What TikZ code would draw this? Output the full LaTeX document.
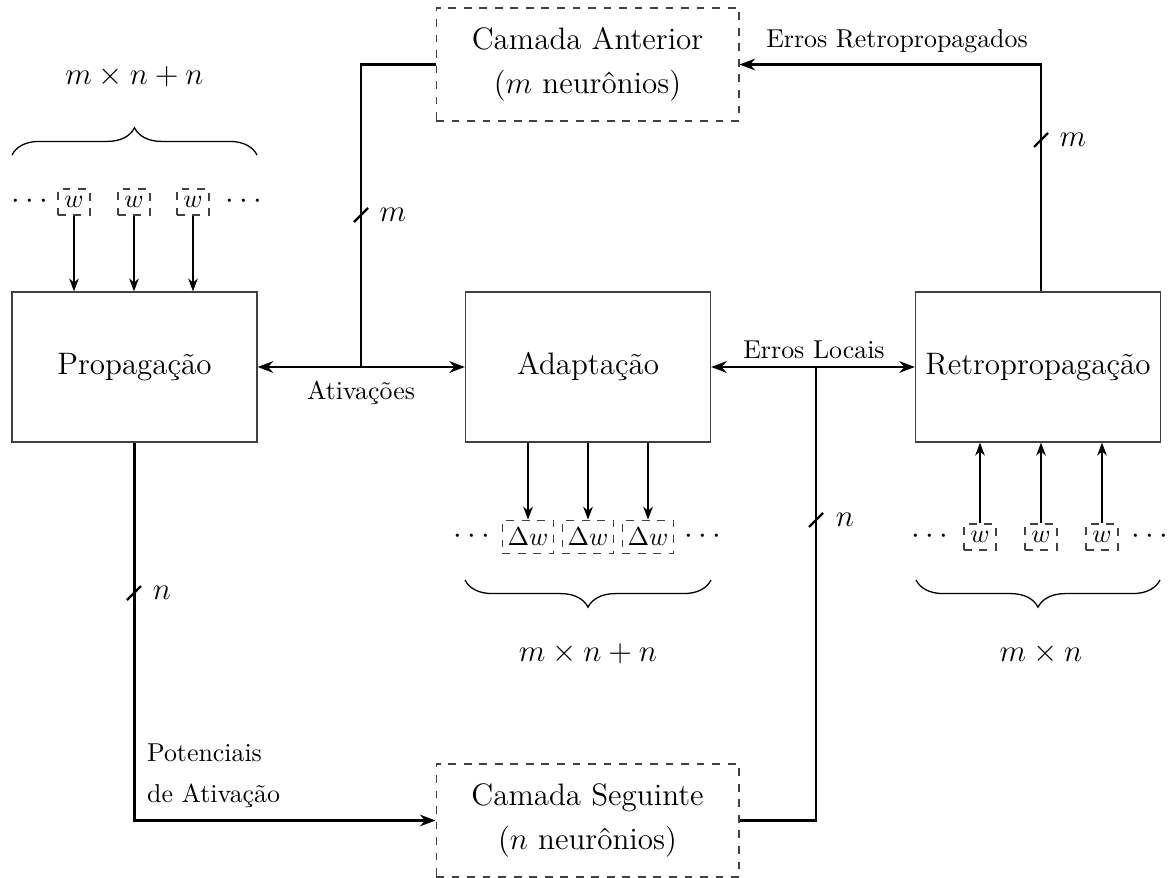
\documentclass[tikz,border=0pt]{standalone}
\usetikzlibrary{arrows.meta,decorations.pathreplacing,calc}
\begin{document}
\begin{tikzpicture}[x=0.3865pt,y=-0.3865pt,
  blk/.style={draw=black!75,line width=0.5pt,minimum width=94.7pt,minimum height=58pt,font=\large},
  layer/.style={draw=black!75,dashed,line width=0.5pt,minimum width=117pt,minimum height=43.7pt,font=\large,align=center},
  wbox/.style={draw=black!75,dashed,line width=0.5pt,inner ysep=2.5pt,inner xsep=2.5pt,minimum height=10pt},
  conn/.style={line width=0.9pt},
  dbl/.style={line width=0.9pt,{Stealth[length=6pt]}-{Stealth[length=6pt]}},
  sarr/.style={line width=0.5pt,-{Stealth[length=5pt]}},
  cut/.style={line width=0.9pt},
  brc/.style={decorate,decoration={brace,amplitude=10.5pt,aspect=0.5},line width=0.5pt},
  lbl/.style={font=\normalsize}]
\useasboundingbox (0,0) rectangle (1172,877);
% main blocks
\node[blk] (prop) at (134.5,367) {Propaga\c{c}\~ao};
\node[blk] (adap) at (588,367) {Adapta\c{c}\~ao};
\node[blk] (retro) at (1038,367) {Retropropaga\c{c}\~ao};
\node[layer] (ant) at (587.5,64.5) {Camada Anterior\\[3pt]($m$ neur\^onios)};
\node[layer] (seg) at (587.5,820.5) {Camada Seguinte\\[3pt]($n$ neur\^onios)};
% Ativacoes
\draw[dbl] (prop.east) -- (adap.west);
\coordinate (j1) at (361,367);
\node[lbl,below] (ativ) at (361,372) {Ativa\c{c}\~oes};
\coordinate (c1) at (361,64.5);
\draw[conn] (j1) -- (c1) -- (ant.west);
\draw[cut] (354,222) -- (368,208);
\node[lbl] (lm1) at (393,215) {\large$m$};
% Erros Locais
\draw[dbl] (adap.east) -- (retro.west);
\node[lbl] (el) at (814,350) {Erros Locais};
\coordinate (j2) at (816,367);
\coordinate (c2) at (816,820.5);
\draw[conn] (j2) -- (c2) -- (seg.east);
\draw[cut] (809,527) -- (823,513);
\node[lbl] (ln2) at (845,520) {\large$n$};
% Erros retropropagados
\coordinate (c3) at (1041,64.5);
\draw[conn,-{Stealth[length=6pt]}] (retro.north -| c3) -- (c3) -- (ant.east);
\node[lbl] (er) at (897,41) {Erros Retropropagados};
\draw[cut] (1034,147) -- (1048,133);
\node[lbl] (lm3) at (1073,140) {\large$m$};
% Potenciais
\coordinate (c4) at (134.5,820.5);
\draw[conn,-{Stealth[length=6pt]}] (prop.south) -- (c4) -- (seg.west);
\node[lbl,align=left,anchor=west] (pot) at (138,776) {Potenciais\\[4pt]de Ativa\c{c}\~ao};
\draw[cut] (127,600) -- (141,586);
\node[lbl] (ln4) at (162,593) {\large$n$};
% weights above Propagacao
\node (d1) at (30,202) {\large$\cdots$};
\node[wbox] (w1) at (74,202) {$w$};
\node[wbox] (w2) at (134,202) {$w$};
\node[wbox] (w3) at (193,202) {$w$};
\node (d2) at (244,202) {\large$\cdots$};
\foreach \w in {w1,w2,w3} \draw[sarr] (\w.south) -- (\w.south |- prop.north);
\draw[brc] (12,155) -- (257,155);
\node (b1) at (134.5,77) {\large$m\times n+n$};
% delta w below Adaptacao
\node (d3) at (472,537) {\large$\cdots$};
\node[wbox,minimum height=13pt,inner xsep=2pt] (dw1) at (528,537) {$\Delta w$};
\node[wbox,minimum height=13pt,inner xsep=2pt] (dw2) at (588,537) {$\Delta w$};
\node[wbox,minimum height=13pt,inner xsep=2pt] (dw3) at (648,537) {$\Delta w$};
\node (d4) at (703,537) {\large$\cdots$};
\foreach \w in {dw1,dw2,dw3} \draw[sarr] (\w.north |- adap.south) -- (\w.north);
\draw[brc] (711,580) -- (465,580);
\node (b2) at (588,654) {\large$m\times n+n$};
% w below Retropropagacao
\node (d5) at (930,537) {\large$\cdots$};
\node[wbox] (r1) at (980,537) {$w$};
\node[wbox] (r2) at (1041,537) {$w$};
\node[wbox] (r3) at (1102,537) {$w$};
\node (d6) at (1150,537) {\large$\cdots$};
\foreach \w in {r1,r2,r3} \draw[sarr] (\w.north) -- (\w.north |- retro.south);
\draw[brc] (1160,580) -- (916,580);
\node (b3) at (1041,654) {\large$m\times n$};
\end{tikzpicture}
\end{document}
